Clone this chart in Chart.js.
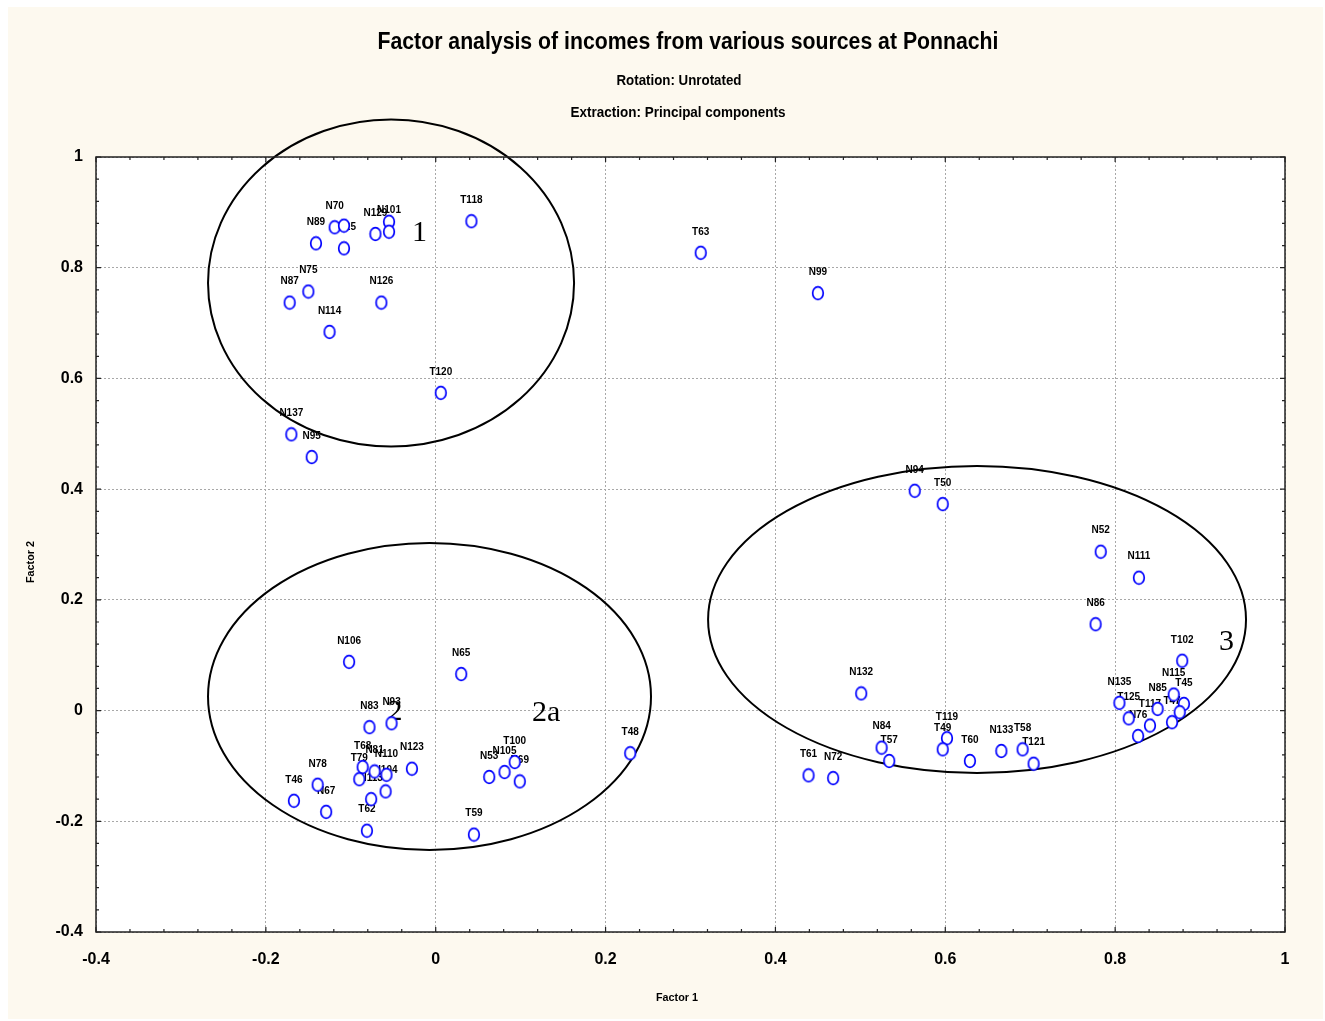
<!DOCTYPE html>
<html>
<head>
<meta charset="utf-8">
<title>Factor analysis of incomes from various sources at Ponnachi</title>
<script src="https://cdn.jsdelivr.net/npm/chart.js@4.4.1/dist/chart.umd.min.js"></script>
<style>
  html, body { margin: 0; padding: 0; background: #ffffff; }
  #c { display: block; }
</style>
</head>
<body>
<canvas id="c" width="1325" height="1021"></canvas>
<script>
// point names and loadings (Factor 1, Factor 2)
const names = [
  'N70', '', 'N89', 'N125', 'N129', '', 'N101', 'T118', 'N75', 'N87', 'N114', 'N126', 'T120', 'N137', 'N95',
  'T63', 'N99', 'N94', 'T50', 'N52', 'N111', 'N86', 'T102', 'N115', 'T45', 'N135', 'T125', 'N85', 'T117', '',
  'N76', 'T47', 'N132', 'N84', 'T57', 'T119', 'T49', 'T60', 'N133', 'T58', 'T121', 'T61', 'N72', 'T48',
  'N106', 'N65', 'N83', 'N93', 'T68', 'T79', 'N81', 'N110', 'N104', 'N113', 'N123', 'T62', 'N78', 'T46', 'N67',
  'N53', 'N105', 'T100', 'N69', 'T59'
];
const factor1 = [
  -0.119, -0.108, -0.141, -0.108, -0.071, -0.055, -0.055, 0.042, -0.150, -0.172, -0.125, -0.064, 0.006, -0.170, -0.146,
  0.312, 0.450, 0.564, 0.597, 0.783, 0.828, 0.777, 0.879, 0.869, 0.881, 0.805, 0.816, 0.850, 0.841, 0.876,
  0.827, 0.867, 0.501, 0.525, 0.534, 0.602, 0.597, 0.629, 0.666, 0.691, 0.704, 0.439, 0.468, 0.229,
  -0.102, 0.030, -0.078, -0.052, -0.086, -0.090, -0.072, -0.058, -0.059, -0.076, -0.028, -0.081, -0.139, -0.167, -0.129,
  0.063, 0.081, 0.093, 0.099, 0.045
];
const factor2 = [
  0.873, 0.876, 0.844, 0.835, 0.861, 0.883, 0.865, 0.884, 0.757, 0.737, 0.684, 0.737, 0.574, 0.499, 0.458,
  0.827, 0.754, 0.397, 0.373, 0.287, 0.240, 0.156, 0.090, 0.029, 0.012, 0.014, -0.014, 0.003, -0.027, -0.003,
  -0.046, -0.021, 0.031, -0.067, -0.091, -0.050, -0.070, -0.091, -0.073, -0.070, -0.096, -0.117, -0.122, -0.077,
  0.088, 0.066, -0.030, -0.023, -0.102, -0.124, -0.110, -0.116, -0.146, -0.160, -0.105, -0.217, -0.134, -0.163, -0.183,
  -0.120, -0.111, -0.093, -0.128, -0.224
];
const xTicks = [-0.4, -0.2, 0, 0.2, 0.4, 0.6, 0.8, 1];
const yTicks = [-0.4, -0.2, 0, 0.2, 0.4, 0.6, 0.8, 1];

// hand-drawn group outlines (centre x, centre y, radius x, radius y in data units)
const groups = [
  { cx: -0.0526, cy: 0.7724, rx: 0.2155, ry: 0.2953 },
  { cx: -0.0073, cy: 0.0255, rx: 0.2608, ry: 0.2773 },
  { cx: 0.6374, cy: 0.1646, rx: 0.3167, ry: 0.2773 }
];
const groupTags = [
  { text: '1', x: -0.019, y: 0.863 },
  { text: '2', x: -0.048, y: -0.003 },
  { text: '2a', x: 0.130, y: -0.004 },
  { text: '3', x: 0.931, y: 0.124 }
];

const points = names.map((n, i) => ({ x: factor1[i], y: factor2[i] }));

// hollow blue ellipse marker
const marker = document.createElement('canvas');
marker.width = 14; marker.height = 16;
(function () {
  const m = marker.getContext('2d');
  m.beginPath();
  m.ellipse(7, 8, 5.3, 6.3, 0, 0, Math.PI * 2);
  m.fillStyle = '#ffffff';
  m.fill();
  m.lineWidth = 1.7;
  m.strokeStyle = '#0000ff';
  m.stroke();
})();

const SANS = '"Liberation Sans", Arial, sans-serif';

function fitText(ctx, text, cx, cy, size, width, rot) {
  ctx.save();
  ctx.font = 'bold ' + size + 'px ' + SANS;
  const w = ctx.measureText(text).width;
  ctx.translate(cx, cy);
  if (rot) ctx.rotate(rot);
  ctx.scale(width / w, 1);
  ctx.textAlign = 'center';
  ctx.textBaseline = 'middle';
  ctx.fillStyle = '#000000';
  ctx.fillText(text, 0, 0);
  ctx.restore();
}

const decor = {
  id: 'decor',
  beforeDraw(chart) {
    const ctx = chart.ctx, a = chart.chartArea;
    ctx.save();
    ctx.fillStyle = '#fdf9ef';
    ctx.fillRect(8, 7, 1315, 1012);
    ctx.fillStyle = '#ffffff';
    ctx.fillRect(a.left, a.top, a.right - a.left, a.bottom - a.top);
    ctx.restore();
  },
  beforeDatasetsDraw(chart) {
    const ctx = chart.ctx, xs = chart.scales.x, ys = chart.scales.y;
    ctx.save();
    // point labels (markers drawn over them)
    ctx.font = 'bold 10px ' + SANS;
    ctx.textAlign = 'center';
    ctx.textBaseline = 'middle';
    ctx.fillStyle = '#000000';
    const meta = chart.getDatasetMeta(0);
    meta.data.forEach((el, i) => {
      if (names[i]) ctx.fillText(names[i], el.x, el.y - 21);
    });
    // group outlines
    ctx.lineWidth = 2;
    ctx.strokeStyle = '#000000';
    groups.forEach((g) => {
      const px = xs.getPixelForValue(g.cx), py = ys.getPixelForValue(g.cy);
      const rx = Math.abs(xs.getPixelForValue(g.cx + g.rx) - px);
      const ry = Math.abs(ys.getPixelForValue(g.cy + g.ry) - py);
      ctx.beginPath();
      ctx.ellipse(px, py, rx, ry, 0, 0, Math.PI * 2);
      ctx.stroke();
    });
    ctx.font = '30px "Liberation Serif", "Times New Roman", serif';
    groupTags.forEach((t) => {
      ctx.fillText(t.text, xs.getPixelForValue(t.x), ys.getPixelForValue(t.y));
    });
    ctx.restore();
  },
  afterDraw(chart) {
    const ctx = chart.ctx, a = chart.chartArea, xs = chart.scales.x, ys = chart.scales.y;
    ctx.save();
    ctx.strokeStyle = '#222222';
    ctx.lineWidth = 1.5;
    ctx.strokeRect(a.left, a.top, a.right - a.left, a.bottom - a.top);
    // inward ticks on all four sides, 4 minor between majors
    ctx.lineWidth = 1.2;
    ctx.beginPath();
    for (let i = 0; i < xTicks.length - 1; i++) {
      for (let k = 0; k <= 5; k++) {
        const v = xTicks[i] + (xTicks[i + 1] - xTicks[i]) * k / 5;
        const px = xs.getPixelForValue(v), len = (k === 0 || k === 5) ? 5 : 3;
        ctx.moveTo(px, a.bottom); ctx.lineTo(px, a.bottom - len);
        ctx.moveTo(px, a.top); ctx.lineTo(px, a.top + len);
      }
    }
    for (let i = 0; i < yTicks.length - 1; i++) {
      for (let k = 0; k <= 5; k++) {
        const v = yTicks[i] + (yTicks[i + 1] - yTicks[i]) * k / 5;
        const py = ys.getPixelForValue(v), len = (k === 0 || k === 5) ? 5 : 3;
        ctx.moveTo(a.left, py); ctx.lineTo(a.left + len, py);
        ctx.moveTo(a.right, py); ctx.lineTo(a.right - len, py);
      }
    }
    ctx.stroke();
    ctx.restore();

    fitText(ctx, 'Factor analysis of incomes from various sources at Ponnachi', 688, 43, 23, 621);
    fitText(ctx, 'Rotation: Unrotated', 679, 81, 14, 125);
    fitText(ctx, 'Extraction: Principal components', 678, 113, 14, 215);
    fitText(ctx, 'Factor 1', 677, 998, 11, 42);
    fitText(ctx, 'Factor 2', 31, 562, 11, 42, -Math.PI / 2);
  }
};

const tickFmt = (v) => String(Number(v.toFixed(1)));

new Chart(document.getElementById('c'), {
  type: 'scatter',
  data: {
    datasets: [{
      data: points,
      pointStyle: marker,
      pointRadius: 7,
      pointHoverRadius: 7
    }]
  },
  options: {
    responsive: false,
    devicePixelRatio: 1,
    animation: false,
    layout: { padding: { left: 0, top: 157, right: 40, bottom: 0 } },
    plugins: { legend: { display: false }, tooltip: { enabled: false } },
    scales: {
      x: {
        type: 'linear',
        min: xTicks[0],
        max: xTicks[xTicks.length - 1],
        afterBuildTicks: (s) => { s.ticks = xTicks.map((v) => ({ value: v })); },
        afterFit: (s) => { s.height = 89; },
        ticks: {
          callback: tickFmt,
          color: '#000000',
          font: { family: SANS, size: 16, weight: 'bold' },
          padding: 18,
          maxRotation: 0,
          autoSkip: false
        },
        grid: { color: '#a8a8a8', lineWidth: 1, drawTicks: false },
        border: { display: false, dash: [2, 2] }
      },
      y: {
        type: 'linear',
        min: yTicks[0],
        max: yTicks[yTicks.length - 1],
        afterBuildTicks: (s) => { s.ticks = yTicks.map((v) => ({ value: v })); },
        afterFit: (s) => { s.width = 96; },
        ticks: {
          callback: tickFmt,
          color: '#000000',
          font: { family: SANS, size: 16, weight: 'bold' },
          padding: 13,
          autoSkip: false
        },
        grid: { color: '#a8a8a8', lineWidth: 1, drawTicks: false },
        border: { display: false, dash: [2, 2] }
      }
    }
  },
  plugins: [decor]
});
</script>
</body>
</html>
